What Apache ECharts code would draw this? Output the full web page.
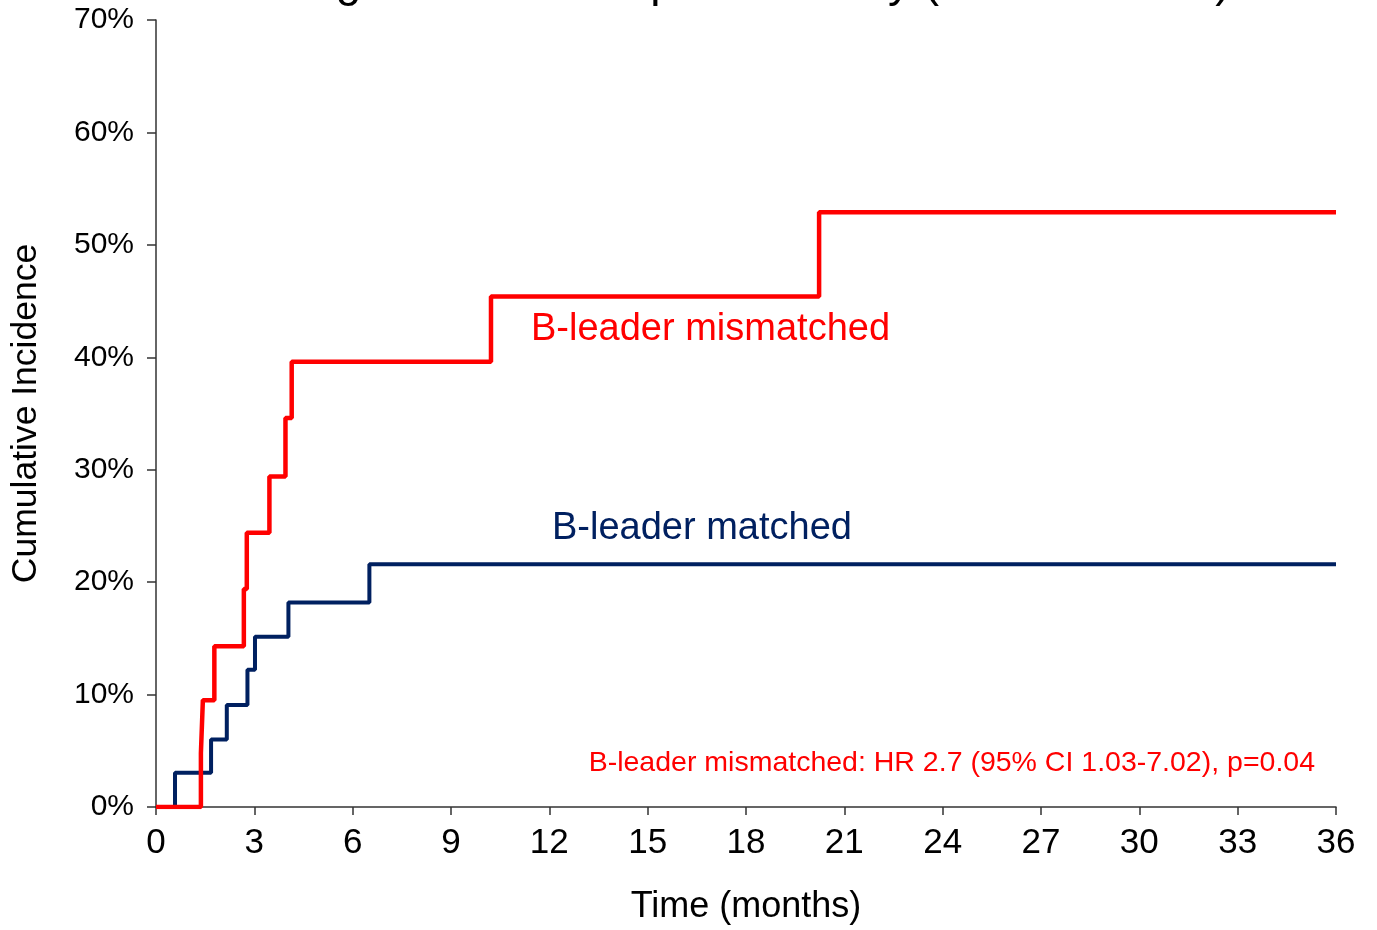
<!DOCTYPE html>
<html>
<head>
<meta charset="utf-8">
<title>Non-Relapse Mortality</title>
<script src="https://cdn.jsdelivr.net/npm/echarts@6/dist/echarts.min.js"></script>
<style>
  html, body { margin: 0; padding: 0; background: #fff; }
  #chart { width: 1377px; height: 930px; }
</style>
</head>
<body>
<div id="chart"></div>
<script>
  // step times (months) and cumulative incidence (%)
  var mismatchedTimes = [0, 1.37, 1.43, 1.78, 2.68, 2.77, 3.46, 3.95, 4.14, 10.22, 20.23, 36];
  var mismatchedValues = [0, 4.8, 9.5, 14.3, 19.4, 24.4, 29.4, 34.6, 39.6, 45.4, 52.9, 52.9];
  var matchedTimes = [0, 0.58, 1.68, 2.16, 2.79, 3.02, 4.04, 6.51, 36];
  var matchedValues = [0, 3.05, 6.0, 9.07, 12.2, 15.15, 18.2, 21.6, 21.6];
  var xTicks = [0, 3, 6, 9, 12, 15, 18, 21, 24, 27, 30, 33, 36];
  var yTicks = [0, 10, 20, 30, 40, 50, 60, 70];

  var font = '"Liberation Sans", Arial, Helvetica, sans-serif';
  var RED = '#FF0000';
  var NAVY = '#002060';

  function pairs(xs, ys) {
    return xs.map(function (x, i) { return [x, ys[i]]; });
  }

  var myChart = echarts.init(document.getElementById('chart'));
  var option = {
    backgroundColor: '#fff',
    animation: false,
    grid: { left: 156, right: 41, top: 20, bottom: 123, containLabel: false, outerBoundsMode: 'none' },
    xAxis: {
      type: 'value',
      min: xTicks[0],
      max: xTicks[xTicks.length - 1],
      interval: 3,
      name: 'Time (months)',
      nameLocation: 'middle',
      nameGap: 82,
      nameTextStyle: { fontFamily: font, fontSize: 36, color: '#000' },
      axisLine: { show: true, lineStyle: { color: '#333', width: 1.5 } },
      axisTick: { show: true, inside: false, length: 8, lineStyle: { color: '#333', width: 1.5 } },
      axisLabel: { margin: 19, fontFamily: font, fontSize: 35, color: '#000' },
      splitLine: { show: false }
    },
    yAxis: {
      type: 'value',
      min: yTicks[0],
      max: yTicks[yTicks.length - 1],
      interval: 10,
      name: 'Cumulative Incidence',
      nameLocation: 'middle',
      nameGap: 112,
      nameTextStyle: { fontFamily: font, fontSize: 35.5, color: '#000' },
      axisLine: { show: true, lineStyle: { color: '#333', width: 1.5 } },
      axisTick: { show: true, inside: false, length: 9, lineStyle: { color: '#333', width: 1.5 } },
      axisLabel: { margin: 22, fontFamily: font, fontSize: 30, color: '#000', formatter: '{value}%' },
      splitLine: { show: false }
    },
    series: [
      {
        name: 'B-leader mismatched',
        type: 'line',
        step: 'end',
        symbol: 'none',
        data: pairs(mismatchedTimes, mismatchedValues),
        lineStyle: { color: RED, width: 4.5 },
        z: 3
      },
      {
        name: 'B-leader matched',
        type: 'line',
        step: 'end',
        symbol: 'none',
        data: pairs(matchedTimes, matchedValues),
        lineStyle: { color: NAVY, width: 4 },
        z: 2
      }
    ],
    graphic: [
      {
        type: 'text', x: 764, y: -17,
        style: { text: 'Fig 2B: Non-Relapse Mortality (Patient-donor)', fontFamily: font, fontSize: 46, fill: '#000', align: 'center', verticalAlign: 'middle' }
      },
      {
        type: 'text', x: 531, y: 330,
        style: { text: 'B-leader mismatched', fontFamily: font, fontSize: 38, fill: RED, verticalAlign: 'middle' }
      },
      {
        type: 'text', x: 552, y: 529,
        style: { text: 'B-leader matched', fontFamily: font, fontSize: 38, fill: NAVY, verticalAlign: 'middle' }
      },
      {
        type: 'text', x: 1315, y: 763,
        style: { text: 'B-leader mismatched: HR 2.7 (95% CI 1.03-7.02), p=0.04', fontFamily: font, fontSize: 28.5, fill: RED, align: 'right', verticalAlign: 'middle' }
      }
    ]
  };
  // 绘制图表
  myChart.setOption(option);
</script>
</body>
</html>
